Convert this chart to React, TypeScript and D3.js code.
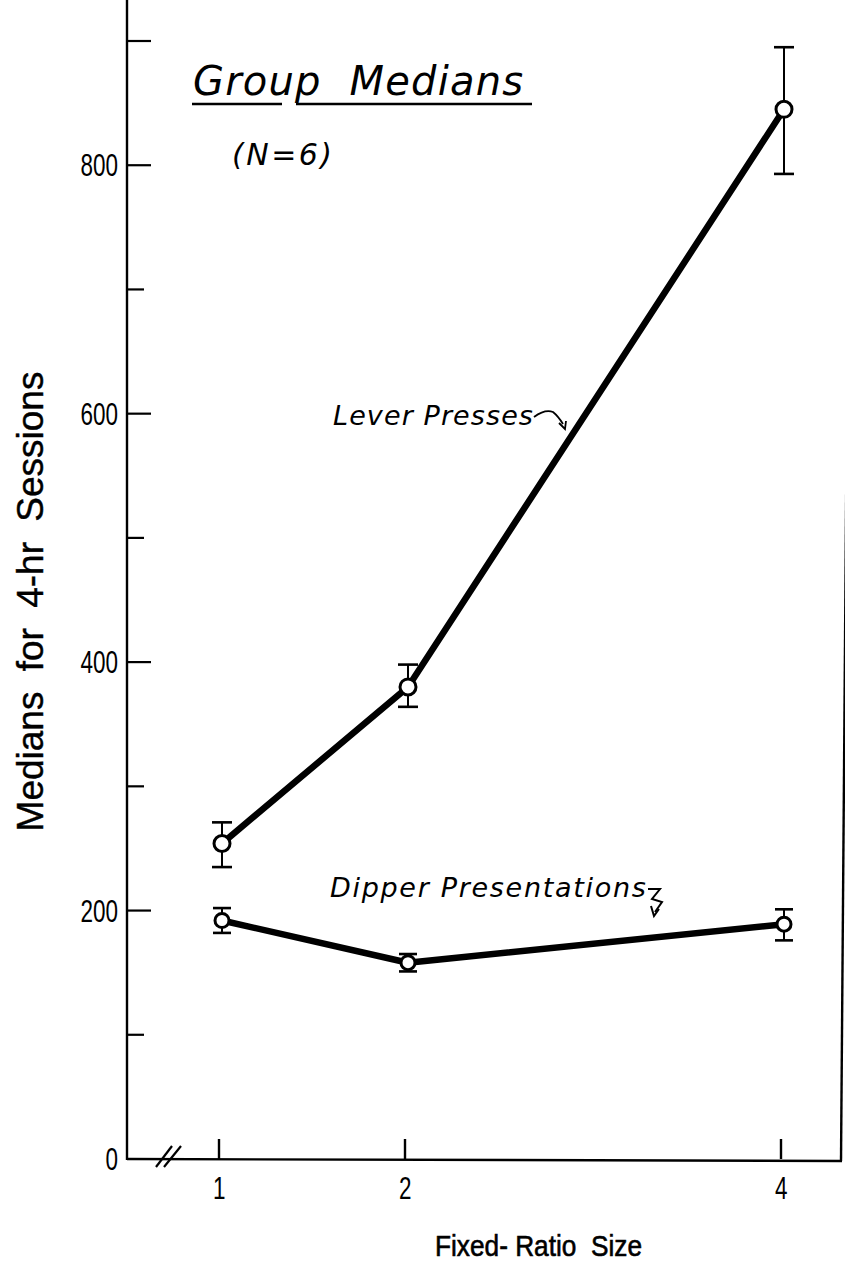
import React from "react";
import * as d3 from "d3";

const ratioSizes = [1, 2, 4];
const xTickLabels = ["1", "2", "4"];
const leverMedians = [254, 380, 845];
const leverLow = [235, 364, 793];
const leverHigh = [271, 398, 895];
const dipperMedians = [192, 158, 189];
const dipperLow = [182, 151, 176];
const dipperHigh = [202, 165, 201];
const yTicks = [0, 100, 200, 300, 400, 500, 600, 700, 800, 900];
const yLabelled = [0, 200, 400, 600, 800];

const W = 845;
const H = 1271;
const AX = 127;
const AY = 1159;

const x = d3.scaleLinear().domain([1, 2, 4]).range([222, 408, 784]);
const y = d3.scaleLinear().domain([0, 900]).range([AY, 41]);

const line = d3
  .line<number>()
  .x((_, i) => x(ratioSizes[i]))
  .y((d) => y(d));

const italic = "'DejaVu Sans', 'Liberation Sans', sans-serif";
const plain = "'Liberation Sans', Arial, sans-serif";

function Series({ vals, lo, hi, cap, r }: { vals: number[]; lo: number[]; hi: number[]; cap: number; r: number }) {
  return (
    <g>
      <path d={line(vals) || ""} fill="none" stroke="#000" strokeWidth={6.5} strokeLinejoin="round" />
      {vals.map((v, i) => {
        const cx = x(ratioSizes[i]);
        return (
          <g key={i}>
            <line x1={cx} x2={cx} y1={y(lo[i])} y2={y(hi[i])} stroke="#000" strokeWidth={2} />
            <line x1={cx - cap} x2={cx + cap} y1={y(lo[i])} y2={y(lo[i])} stroke="#000" strokeWidth={2.6} />
            <line x1={cx - cap} x2={cx + cap} y1={y(hi[i])} y2={y(hi[i])} stroke="#000" strokeWidth={2.6} />
            <circle cx={cx} cy={y(v)} r={r} fill="#fff" stroke="#000" strokeWidth={3} />
          </g>
        );
      })}
    </g>
  );
}

export default function App() {
  return (
    <svg
      width={W}
      height={H}
      viewBox={`0 0 ${W} ${H}`}
      style={{ position: "absolute", left: 0, top: 0, background: "#fff" }}
    >
      <rect x={0} y={0} width={W} height={H} fill="#fff" />
      {/* axes frame */}
      <line x1={AX} x2={AX} y1={0} y2={AY + 1} stroke="#000" strokeWidth={2.4} />
      <line x1={AX} x2={842} y1={AY} y2={AY + 2} stroke="#000" strokeWidth={2.4} />
      <line x1={841} x2={850} y1={AY + 2} y2={0} stroke="#000" strokeWidth={2.4} />
      {/* break marks */}
      <line x1={156} x2={172} y1={1167} y2={1146} stroke="#000" strokeWidth={2.2} />
      <line x1={164} x2={181} y1={1167} y2={1146} stroke="#000" strokeWidth={2.2} />

      {/* y ticks */}
      {yTicks.map((t) => {
        const long = t % 200 === 0 || t === 900;
        return t === 0 ? null : (
          <line key={t} x1={AX} x2={AX + (long ? 24 : 17)} y1={y(t)} y2={y(t)} stroke="#000" strokeWidth={2.2} />
        );
      })}
      {yLabelled.map((t) => {
        const s = String(t);
        return (
          <text
            key={t}
            x={AX - 9}
            y={y(t) + 11}
            textAnchor="end"
            fontFamily={plain}
            fontSize={31}
            textLength={s.length * 12.5}
            lengthAdjust="spacingAndGlyphs"
            fill="#000"
          >
            {s}
          </text>
        );
      })}

      {/* x ticks */}
      {ratioSizes.map((r, i) => (
        <g key={r}>
          <line x1={x(r) - 3} x2={x(r) - 3} y1={AY} y2={AY - 20} stroke="#000" strokeWidth={2.4} />
          <text
            x={x(r) - 9}
            y={1199}
            fontFamily={plain}
            fontSize={31}
            textLength={12.5}
            lengthAdjust="spacingAndGlyphs"
            fill="#000"
          >
            {xTickLabels[i]}
          </text>
        </g>
      ))}

      {/* axis titles */}
      <text
        x={435}
        y={1256}
        fontFamily={plain}
        fontSize={29}
        textLength={207}
        lengthAdjust="spacingAndGlyphs"
        stroke="#000"
        strokeWidth={0.6}
        style={{ whiteSpace: "pre" }}
        fill="#000"
      >
        {"Fixed- Ratio  Size"}
      </text>
      <text
        transform={`translate(43, ${(363 + 840) / 2}) rotate(-90)`}
        textAnchor="middle"
        fontFamily={plain}
        fontSize={37}
        wordSpacing={10}
        stroke="#000"
        strokeWidth={0.4}
        fill="#000"
      >
        Medians for 4-hr Sessions
      </text>

      {/* title */}
      <text x={193} y={95} fontFamily={italic} fontStyle="italic" fontSize={40} letterSpacing={1.2} wordSpacing={14} fill="#000">
        Group Medians
      </text>
      <line x1={192} x2={282} y1={104} y2={104} stroke="#000" strokeWidth={2.7} />
      <line x1={296} x2={532} y1={104} y2={104} stroke="#000" strokeWidth={2.7} />
      <text x={232} y={165} fontFamily={italic} fontStyle="italic" fontSize={30} letterSpacing={2.5} fill="#000">
        (N=6)
      </text>

      {/* series */}
      <Series vals={leverMedians} lo={leverLow} hi={leverHigh} cap={10} r={8} />
      <Series vals={dipperMedians} lo={dipperLow} hi={dipperHigh} cap={9} r={7} />

      {/* annotations */}
      <text x={333} y={425} fontFamily={italic} fontStyle="italic" fontSize={27} letterSpacing={1.1} fill="#000">
        Lever Presses
      </text>
      <path d="M534,417 Q545,409 553,412 Q558,416 563,424" fill="none" stroke="#000" strokeWidth={1.8} />
      <path d="M559,423 L565,429 L566,421" fill="none" stroke="#000" strokeWidth={1.8} />

      <text x={330} y={897} fontFamily={italic} fontStyle="italic" fontSize={27} letterSpacing={1.7} fill="#000">
        Dipper Presentations
      </text>
      <path d="M648,889 L660,889 L652,899 L662,902 L655,912" fill="none" stroke="#000" strokeWidth={2} />
      <path d="M651,906 L654,916 L659,909" fill="none" stroke="#000" strokeWidth={2} />
    </svg>
  );
}
